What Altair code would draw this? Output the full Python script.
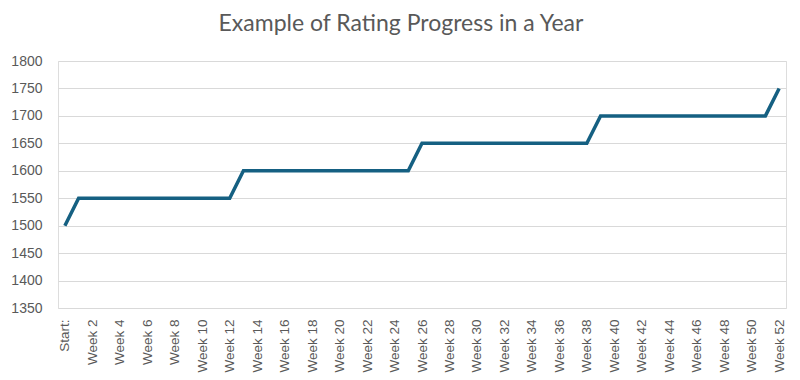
import altair as alt
import pandas as pd

categories = [
    "Start:", "Week 1", "Week 2", "Week 3", "Week 4", "Week 5", "Week 6", "Week 7",
    "Week 8", "Week 9", "Week 10", "Week 11", "Week 12", "Week 13", "Week 14",
    "Week 15", "Week 16", "Week 17", "Week 18", "Week 19", "Week 20", "Week 21",
    "Week 22", "Week 23", "Week 24", "Week 25", "Week 26", "Week 27", "Week 28",
    "Week 29", "Week 30", "Week 31", "Week 32", "Week 33", "Week 34", "Week 35",
    "Week 36", "Week 37", "Week 38", "Week 39", "Week 40", "Week 41", "Week 42",
    "Week 43", "Week 44", "Week 45", "Week 46", "Week 47", "Week 48", "Week 49",
    "Week 50", "Week 51", "Week 52",
]

ratings = [
    1500,
    1550, 1550, 1550, 1550, 1550, 1550, 1550, 1550, 1550, 1550, 1550, 1550,
    1600, 1600, 1600, 1600, 1600, 1600, 1600, 1600, 1600, 1600, 1600, 1600, 1600,
    1650, 1650, 1650, 1650, 1650, 1650, 1650, 1650, 1650, 1650, 1650, 1650, 1650,
    1700, 1700, 1700, 1700, 1700, 1700, 1700, 1700, 1700, 1700, 1700, 1700, 1700,
    1750,
]

x_tick_labels = categories[::2]
y_ticks = [1350, 1400, 1450, 1500, 1550, 1600, 1650, 1700, 1750, 1800]

df = pd.DataFrame({"period": categories, "rating": ratings})

TITLE_FONT = "Lato"
LABEL_FONT = "Liberation Sans"
GRAY = "#595959"

chart = (
    alt.Chart(df)
    .mark_line(color="#156082", strokeWidth=3.5, strokeJoin="miter")
    .encode(
        x=alt.X(
            "period:N",
            sort=categories,
            title=None,
            axis=alt.Axis(
                values=x_tick_labels,
                labelAngle=-90,
                labelAlign="right",
                labelBaseline="middle",
                labelPadding=11,
                labelFontSize=13.5,
                labelColor=GRAY,
                labelFont=LABEL_FONT,
                ticks=False,
                domain=False,
                grid=False,
                labelOverlap=False,
            ),
        ),
        y=alt.Y(
            "rating:Q",
            title=None,
            scale=alt.Scale(domain=[1350, 1800], nice=False, zero=False),
            axis=alt.Axis(
                values=y_ticks,
                format="d",
                labelPadding=16,
                labelFontSize=14,
                labelColor=GRAY,
                labelFont=LABEL_FONT,
                ticks=False,
                domain=False,
                grid=True,
                gridColor="#d9d9d9",
                gridWidth=1,
            ),
        ),
    )
    .properties(
        width=728,
        height=247,
        autosize=alt.AutoSizeParams(type="none"),
        padding={"left": 50, "top": 53, "right": 6, "bottom": 72},
        title=alt.TitleParams(
            "Example of Rating Progress in a Year",
            fontSize=23,
            font=TITLE_FONT,
            fontWeight="normal",
            color=GRAY,
            anchor="middle",
            dx=-21,
            offset=18,
        ),
    )
    .configure_view(stroke=None)
    .configure(background="white")
)

chart.save("out.html", embed_options={"renderer": "svg", "actions": False})
